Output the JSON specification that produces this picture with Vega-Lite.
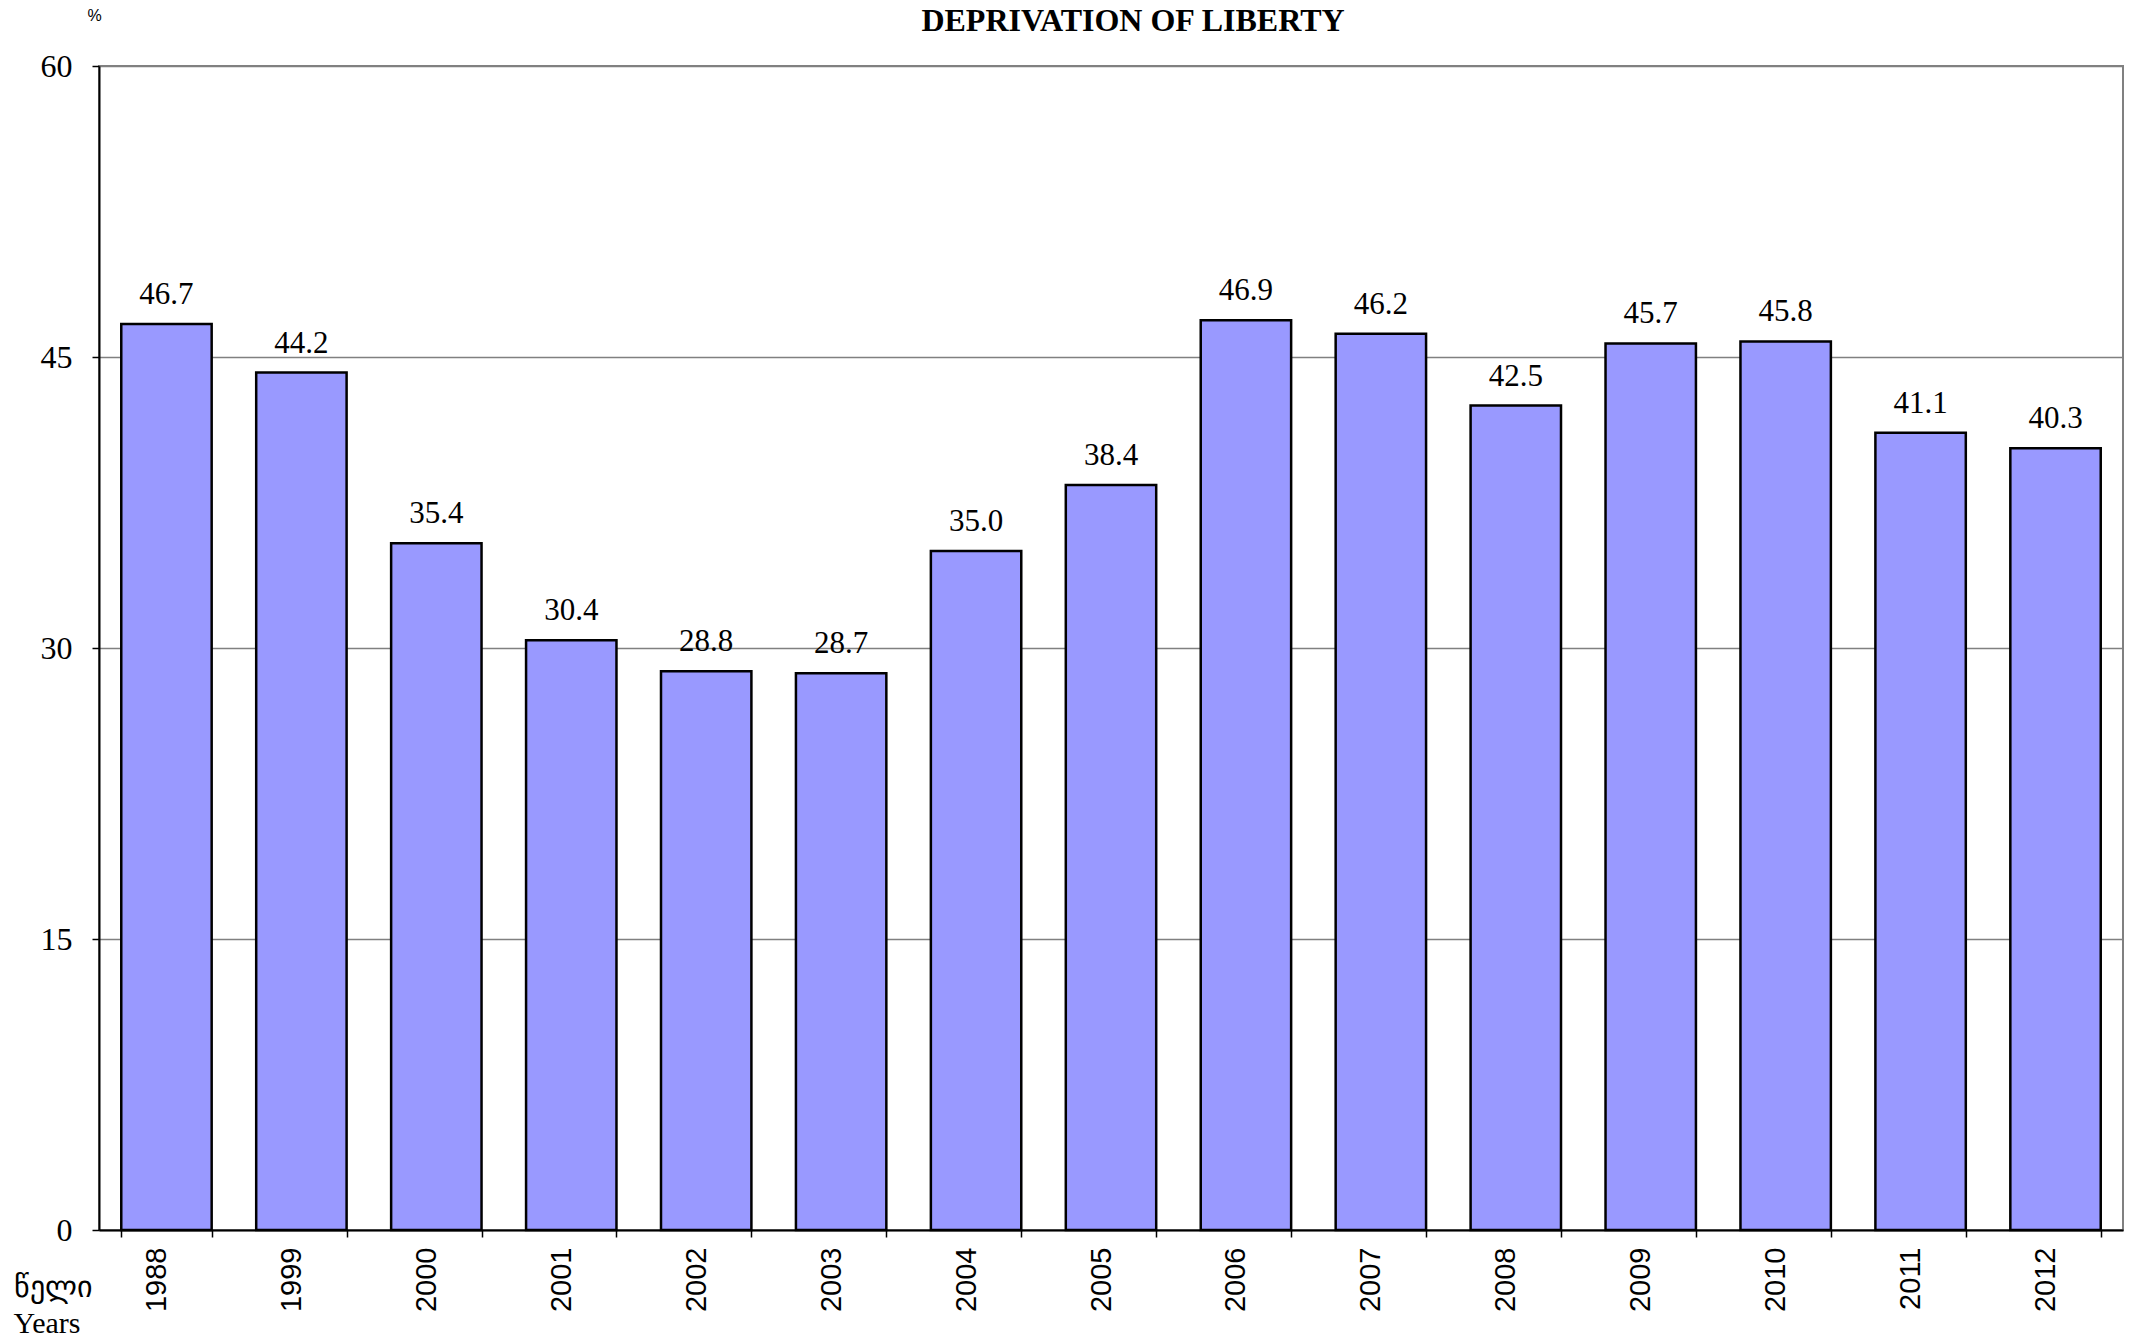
{
  "$schema": "https://vega.github.io/schema/vega-lite/v6.json",
  "autosize": "none",
  "width": 2024,
  "height": 1164,
  "padding": {"left": 99, "top": 66, "right": 10, "bottom": 113},
  "background": "white",
  "title": {
    "text": "DEPRIVATION OF LIBERTY",
    "font": "Liberation Serif",
    "fontSize": 32,
    "fontWeight": "bold",
    "color": "black",
    "anchor": "middle",
    "baseline": "alphabetic",
    "offset": -56,
    "dx": 22
  },
  "config": {
    "view": {"stroke": "#808080", "strokeWidth": 2}
  },
  "data": {
    "values": [
      {"year": "1988", "value": 46.7},
      {"year": "1999", "value": 44.2},
      {"year": "2000", "value": 35.4},
      {"year": "2001", "value": 30.4},
      {"year": "2002", "value": 28.8},
      {"year": "2003", "value": 28.7},
      {"year": "2004", "value": 35.0},
      {"year": "2005", "value": 38.4},
      {"year": "2006", "value": 46.9},
      {"year": "2007", "value": 46.2},
      {"year": "2008", "value": 42.5},
      {"year": "2009", "value": 45.7},
      {"year": "2010", "value": 45.8},
      {"year": "2011", "value": 41.1},
      {"year": "2012", "value": 40.3}
    ]
  },
  "encoding": {
    "x": {
      "field": "year",
      "type": "nominal",
      "sort": null,
      "scale": {"paddingInner": 0.33, "paddingOuter": 0.165},
      "axis": {
        "title": ["წელი", "Years"],
        "titleFont": "Liberation Serif",
        "titleFontSize": 30,
        "titleFontWeight": "normal",
        "titleColor": "black",
        "titleAnchor": "start",
        "titleAlign": "left",
        "titleBaseline": "alphabetic",
        "titleX": -86,
        "titleY": 66,
        "titleLineHeight": 36,
        "labelAngle": -90,
        "labelFont": "Liberation Sans",
        "labelFontSize": 29,
        "labelColor": "black",
        "labelPadding": 10,
        "labelOffset": -10,
        "labelAlign": "right",
        "labelBaseline": "middle",
        "tickBand": "extent",
        "tickSize": 7,
        "tickColor": "black",
        "tickWidth": 1.5,
        "domainColor": "black",
        "domainWidth": 2
      }
    },
    "y": {
      "field": "value",
      "type": "quantitative",
      "scale": {"domain": [0, 60], "nice": false},
      "axis": {
        "values": [0, 15, 30, 45, 60],
        "title": "%",
        "titleFont": "Liberation Sans",
        "titleFontSize": 16,
        "titleFontWeight": "normal",
        "titleColor": "black",
        "titleAngle": 0,
        "titleAlign": "left",
        "titleBaseline": "alphabetic",
        "titleX": -12,
        "titleY": -46,
        "labelFont": "Liberation Serif",
        "labelFontSize": 32,
        "labelColor": "black",
        "labelPadding": 20,
        "tickSize": 7,
        "tickColor": "black",
        "tickWidth": 1.5,
        "domainColor": "black",
        "domainWidth": 2,
        "grid": true,
        "gridColor": "#808080",
        "gridWidth": 1.5
      }
    }
  },
  "layer": [
    {
      "mark": {"type": "bar", "color": "#9999ff", "stroke": "black", "strokeWidth": 2.5}
    },
    {
      "mark": {
        "type": "text",
        "font": "Liberation Serif",
        "fontSize": 31,
        "color": "black",
        "baseline": "alphabetic",
        "dy": -20
      },
      "encoding": {
        "text": {"field": "value", "type": "quantitative", "format": ".1f"}
      }
    }
  ]
}
